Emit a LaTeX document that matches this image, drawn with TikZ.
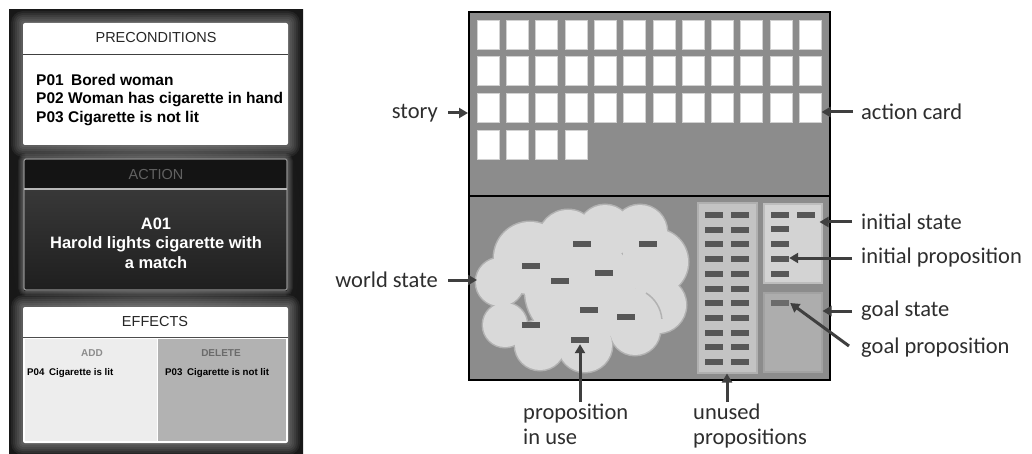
\documentclass[tikz,border=0pt]{standalone}
\usepackage{fontspec}
\setmainfont{Liberation Sans}
\newfontfamily\lblfont{Carlito}
\usetikzlibrary{arrows.meta,calc}

\definecolor{cardbg}{HTML}{181818}
\definecolor{cardmid}{HTML}{3A3A3A}
\definecolor{boxgray}{HTML}{8C8C8C}
\definecolor{cloudfill}{HTML}{D9D9D9}
\definecolor{cloudedge}{HTML}{B2B2B2}
\definecolor{barcol}{HTML}{575757}
\definecolor{goalbar}{HTML}{6B6B6B}
\definecolor{unusedfill}{HTML}{C3C3C3}
\definecolor{unusededge}{HTML}{B0B0B0}
\definecolor{initfill}{HTML}{D3D3D3}
\definecolor{initedge}{HTML}{BDBDBD}
\definecolor{goalfill}{HTML}{ADADAD}
\definecolor{goaledge}{HTML}{A2A2A2}
\definecolor{arrowcol}{HTML}{3F3F3F}
\definecolor{lbltext}{HTML}{2E2E2E}

\tikzset{
  area/.style={draw=black, line width=2pt, fill=boxgray, inner sep=0pt},
  actioncard/.style={draw=black!18, line width=0.6pt, fill=white, inner sep=0pt,
    minimum width=22pt, minimum height=29pt},
  propbar/.style={fill=barcol, inner sep=0pt, minimum width=18pt, minimum height=6pt},
  panel/.style={inner sep=0pt, line width=2pt},
  lbl/.style={font=\lblfont\fontsize{22.5}{25}\selectfont, text=lbltext, inner sep=0pt},
  arr/.style={draw=arrowcol, line width=3pt, -{Triangle[length=9pt,width=10pt]}},
  cardtxt/.style={inner sep=0pt},
}

\begin{document}
\begin{tikzpicture}[x=1pt,y=-1pt]
\useasboundingbox (0,0) rectangle (1032,454);
\fill[white] (0,0) rectangle (1032,454);

% ---------------- the action card ----------------
\shade[inner color=cardmid, outer color=cardbg] (9,10) rectangle (303,454);

% soft glow round the white panels
\foreach \k in {12,10,...,2} {
  \fill[white, opacity=0.06, rounded corners=\k pt] (23-\k,23-\k) rectangle (288+\k,145+\k);
  \fill[white, opacity=0.06, rounded corners=\k pt] (23-\k,307-\k) rectangle (288+\k,443+\k);
  \draw[white, opacity=0.05, line width=\k pt, rounded corners=3pt] (24,159) rectangle (287,290);
}

% preconditions panel
\fill[white, rounded corners=2pt] (23,23) rectangle (288,145);
\draw[black!75, line width=0.8pt] (23,54) -- (288,54);
\node[cardtxt, font=\fontsize{14.5}{17}\selectfont, text=black!85] (pretitle) at (156,38) {PRECONDITIONS};
\node[cardtxt, anchor=west, align=left, font=\bfseries\fontsize{15.5}{18.5}\selectfont] (prelist) at (36,100)
  {P01\kern3pt\ Bored woman\\P02 Woman has cigarette in hand\\P03 Cigarette is not lit};

% action panel
\fill[black!92, rounded corners=2pt] (24,159) rectangle (287,189);
\shade[top color=black!78, bottom color=black!88] (24,189) rectangle (287,290);
\draw[black!45, line width=1.2pt, rounded corners=2pt] (24,159) rectangle (287,290);
\draw[black!28, line width=1.8pt] (24,189) -- (287,189);
\node[cardtxt, font=\fontsize{14.5}{17}\selectfont, text=black!62] (acttitle) at (156,175) {ACTION};
\node[cardtxt, align=center, text=white, font=\bfseries\fontsize{16.5}{19.5}\selectfont] (actbody) at (156,243)
  {A01\\Harold lights cigarette with\\a match};

% effects panel
\fill[white, rounded corners=2pt] (23,307) rectangle (288,443);
\draw[black!70, line width=0.8pt] (23,337) -- (288,337);
\fill[black!7] (25,339) rectangle (157,441);
\fill[black!30] (158,339) rectangle (286,441);
\node[cardtxt, font=\fontsize{14.5}{17}\selectfont, text=black!85] (efftitle) at (155,322) {EFFECTS};
\node[cardtxt, font=\bfseries\fontsize{10}{12}\selectfont, text=black!45] (addtitle) at (92,353) {ADD};
\node[cardtxt, font=\bfseries\fontsize{10}{12}\selectfont, text=black!58] (deltitle) at (221,353) {DELETE};
\node[cardtxt, anchor=west, font=\bfseries\fontsize{9.7}{12}\selectfont] (addlist) at (27,373) {P04\kern2pt\ Cigarette is lit};
\node[cardtxt, anchor=west, font=\bfseries\fontsize{9.7}{12}\selectfont] (dellist) at (165,373) {P03\kern2pt\ Cigarette is not lit};

% ---------------- story / world state diagram ----------------
\node[area, minimum width=361pt, minimum height=184pt] (storyarea) at (649.5,104) {};
\node[area, minimum width=361pt, minimum height=184pt] (worldarea) at (649.5,288) {};

% action cards of the story
\foreach \r/\n in {1/12,2/12,3/12,4/4} {
  \foreach \c in {1,...,\n} {
    \node[actioncard] (card-\r-\c) at ({488+(\c-1)*29.3},{34.5+(\r-1)*36.7}) {};
  }
}

% cloud of propositions in use
\begin{scope}
  \def\cloudcircles{500/282/24, 505/325/22, 540/345/25, 585/345/27, 635/330/25,
    658/305/28, 655/262/33, 640/232/27, 605/232/27, 568/240/30, 530/258/36, 580/290/55}
  \foreach \cx/\cy/\cr in \cloudcircles
    \draw[cloudedge, line width=3pt] (\cx,\cy) circle[radius=\cr];
  \foreach \cx/\cy/\cr in \cloudcircles
    \fill[cloudfill] (\cx,\cy) circle[radius=\cr];
  \draw[cloudedge, line width=1.5pt] (646,293) arc[start angle=-58, end angle=-5, radius=34];
\end{scope}
\coordinate (cloudleft) at (477,280);
\foreach \i/\x/\y in {1/582/244, 2/648/244, 3/531/266, 4/560/281, 5/604/273,
                      6/589/310, 7/626/317, 8/531/325, 9/580/340}
  \node[propbar] (cbar\i) at (\x,\y) {};

% unused propositions
\node[panel, fill=unusedfill, draw=unusededge, minimum width=59pt, minimum height=169pt] (unused) at (727,288) {};
\foreach \i in {1,...,11} {
  \node[propbar] (ubarA\i) at (714,{215+(\i-1)*14.7}) {};
  \node[propbar] (ubarB\i) at (739.5,{215+(\i-1)*14.7}) {};
}

% initial state
\node[panel, fill=initfill, draw=initedge, minimum width=58pt, minimum height=78pt] (initpanel) at (792.5,243.5) {};
\node[propbar] (ibarB) at (806,215) {};
\foreach \i/\y in {1/215, 2/229.5, 3/244, 4/259, 5/273.5}
  \node[propbar] (ibar\i) at (780,\y) {};

% goal state
\node[panel, fill=goalfill, draw=goaledge, minimum width=58pt, minimum height=79pt] (goalpanel) at (792.5,332) {};
\node[propbar, fill=goalbar] (gbar) at (780,303) {};

% ---------------- labels ----------------
\node[lbl, anchor=east] (lstory) at (438,113) {story};
\node[lbl, anchor=west] (lcard) at (861,112) {action card};
\node[lbl, anchor=east] (lworld) at (438,280) {world state};
\node[lbl, anchor=west] (linit) at (861,222) {initial state};
\node[lbl, anchor=west] (linitp) at (861,258) {initial proposition};
\node[lbl, anchor=west] (lgoal) at (861,311) {goal state};
\node[lbl, anchor=west] (lgoalp) at (861,348) {goal proposition};
\node[lbl, anchor=north west, align=left] (linuse) at (523,404) {proposition\\in use};
\node[lbl, anchor=north west, align=left] (lunused) at (693,404) {unused\\propositions};

\draw[arr] ([xshift=10pt]lstory.east) -- (storyarea.west |- lstory.east);
\draw[arr] ([xshift=-8pt]lcard.west) -- (card-3-12.east |- lcard.west);
\draw[arr] ([xshift=10pt]lworld.east) -- (cloudleft |- lworld.east);
\draw[arr] ([xshift=-9pt]linit.west) -- ([xshift=-3pt]initpanel.east |- linit.west);
\draw[arr] ([xshift=-9pt]linitp.west) -- (ibar4.east |- linitp.west);
\draw[arr] ([xshift=-9pt]lgoal.west) -- (goalpanel.east |- lgoal.west);
\draw[arr] ([xshift=-12pt,yshift=2pt]lgoalp.west) -- ([xshift=1pt]gbar.east);
\draw[arr] ([yshift=2pt]cbar9.south |- linuse.north) -- ([yshift=-1pt]cbar9.south);
\draw[arr] ([yshift=2pt]unused.south |- lunused.north) -- (unused.south);
\end{tikzpicture}
\end{document}
